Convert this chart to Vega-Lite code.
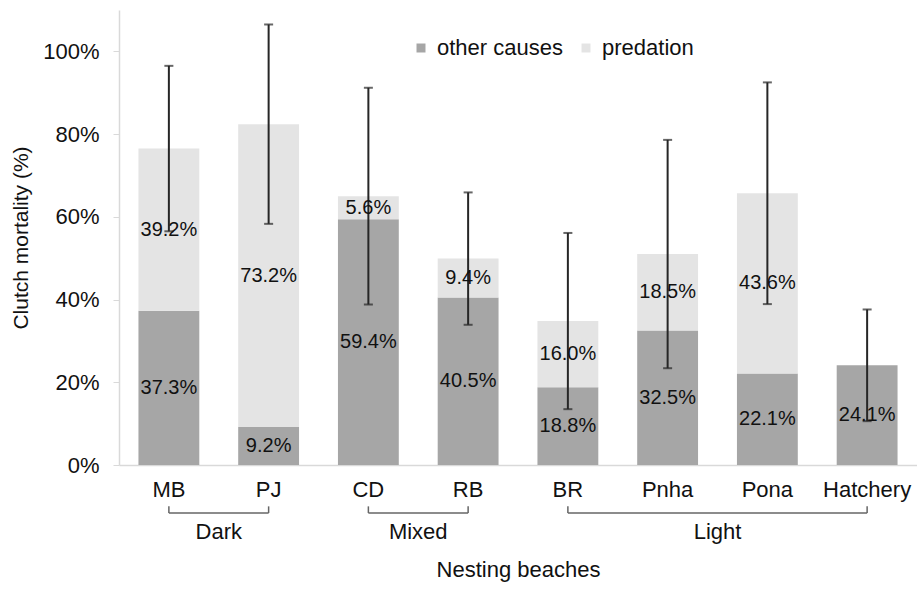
{
  "$schema": "https://vega.github.io/schema/vega-lite/v6.json",
  "width": 798,
  "height": 455,
  "autosize": {"type": "none"},
  "padding": {"left": 119, "top": 10, "right": 0, "bottom": 125},
  "background": "white",
  "config": {
    "font": "Liberation Sans",
    "view": {"stroke": null},
    "axis": {"labelColor": "#111111", "titleColor": "#111111", "titleFontWeight": "normal"}
  },
  "datasets": {
    "beaches": [
      {"beach": "MB", "group": "Dark", "other": 0.373, "predation": 0.392, "err": 0.200},
      {"beach": "PJ", "group": "Dark", "other": 0.092, "predation": 0.732, "err": 0.241},
      {"beach": "CD", "group": "Mixed", "other": 0.594, "predation": 0.056, "err": 0.262},
      {"beach": "RB", "group": "Mixed", "other": 0.405, "predation": 0.094, "err": 0.160},
      {"beach": "BR", "group": "Light", "other": 0.188, "predation": 0.160, "err": 0.213},
      {"beach": "Pnha", "group": "Light", "other": 0.325, "predation": 0.185, "err": 0.276},
      {"beach": "Pona", "group": "Light", "other": 0.221, "predation": 0.436, "err": 0.268},
      {"beach": "Hatchery", "group": "Light", "other": 0.241, "predation": 0.0, "err": 0.135}
    ],
    "groups": [
      {"group": "Dark", "first": "MB", "last": "PJ", "mid": "MB"},
      {"group": "Mixed", "first": "CD", "last": "RB", "mid": "CD"},
      {"group": "Light", "first": "BR", "last": "Hatchery", "mid": "Pnha"}
    ]
  },
  "layer": [
    {
      "data": {"name": "beaches"},
      "transform": [
        {"fold": ["other", "predation"], "as": ["key", "value"]},
        {"calculate": "datum.key === 'other' ? 'other causes' : 'predation'", "as": "cause"},
        {"calculate": "datum.key === 'other' ? 0 : 1", "as": "ord"}
      ],
      "mark": {"type": "bar", "width": {"band": 0.61}},
      "encoding": {
        "x": {
          "field": "beach", "type": "nominal", "sort": null,
          "scale": {"domain": ["MB", "PJ", "CD", "RB", "BR", "Pnha", "Pona", "Hatchery"], "paddingInner": 0, "paddingOuter": 0},
          "axis": {
            "title": "Nesting beaches", "titleFontSize": 22, "titlePadding": 59,
            "labelAngle": 0, "labelFontSize": 22, "labelPadding": 14,
            "ticks": false, "tickSize": 0, "domainColor": "#d9d9d9", "domainWidth": 1.5
          }
        },
        "y": {
          "field": "value", "type": "quantitative", "stack": "zero",
          "scale": {"domain": [0, 1.1], "nice": false},
          "axis": {
            "title": "Clutch mortality (%)", "titleFontSize": 21, "titlePadding": 11,
            "values": [0, 0.2, 0.4, 0.6, 0.8, 1.0], "format": ".0%",
            "labelFontSize": 22, "labelPadding": 14, "tickSize": 6,
            "tickColor": "#d9d9d9", "domainColor": "#d9d9d9", "domainWidth": 1.5, "grid": false
          }
        },
        "color": {
          "field": "cause", "type": "nominal",
          "scale": {"domain": ["other causes", "predation"], "range": ["#a6a6a6", "#e4e4e4"]},
          "legend": {
            "title": null, "orient": "none", "legendX": 291, "legendY": 27,
            "direction": "horizontal", "symbolType": "square", "symbolSize": 81,
            "symbolStrokeWidth": 0, "labelFontSize": 22, "labelOffset": 5,
            "columnPadding": 12, "labelColor": "#111111"
          }
        },
        "order": {"field": "ord", "type": "quantitative"}
      }
    },
    {
      "data": {"name": "beaches"},
      "transform": [
        {"calculate": "datum.other + datum.predation - datum.err", "as": "lo"},
        {"calculate": "datum.other + datum.predation + datum.err", "as": "hi"}
      ],
      "mark": {"type": "rule", "color": "#262626", "strokeWidth": 2},
      "encoding": {
        "x": {"field": "beach", "type": "nominal", "sort": null},
        "y": {"field": "lo", "type": "quantitative"},
        "y2": {"field": "hi"}
      }
    },
    {
      "data": {"name": "beaches"},
      "transform": [
        {"calculate": "datum.other + datum.predation - datum.err", "as": "lo"},
        {"calculate": "datum.other + datum.predation + datum.err", "as": "hi"},
        {"fold": ["lo", "hi"], "as": ["end", "pos"]}
      ],
      "mark": {"type": "tick", "color": "#262626", "size": 9, "thickness": 2},
      "encoding": {
        "x": {"field": "beach", "type": "nominal", "sort": null},
        "y": {"field": "pos", "type": "quantitative"}
      }
    },
    {
      "data": {"name": "beaches"},
      "transform": [
        {"calculate": "datum.other / 2", "as": "mid_other"}
      ],
      "mark": {"type": "text", "fontSize": 20, "color": "#111111", "baseline": "middle", "align": "center"},
      "encoding": {
        "x": {"field": "beach", "type": "nominal", "sort": null},
        "y": {"field": "mid_other", "type": "quantitative"},
        "text": {"field": "other", "type": "quantitative", "format": ".1%"}
      }
    },
    {
      "data": {"name": "beaches"},
      "transform": [
        {"filter": "datum.predation > 0"},
        {"calculate": "datum.other + datum.predation / 2", "as": "mid_pred"}
      ],
      "mark": {"type": "text", "fontSize": 20, "color": "#111111", "baseline": "middle", "align": "center"},
      "encoding": {
        "x": {"field": "beach", "type": "nominal", "sort": null},
        "y": {"field": "mid_pred", "type": "quantitative"},
        "text": {"field": "predation", "type": "quantitative", "format": ".1%"}
      }
    },
    {
      "data": {"name": "groups"},
      "mark": {"type": "rule", "color": "#666666", "strokeWidth": 1.5, "clip": false},
      "encoding": {
        "x": {"field": "first", "type": "nominal"},
        "x2": {"field": "last"},
        "y": {"datum": -0.116, "type": "quantitative"}
      }
    },
    {
      "data": {"name": "groups"},
      "transform": [{"fold": ["first", "last"], "as": ["side", "b"]}],
      "mark": {"type": "rule", "color": "#666666", "strokeWidth": 1.5, "clip": false},
      "encoding": {
        "x": {"field": "b", "type": "nominal"},
        "y": {"datum": -0.100, "type": "quantitative"},
        "y2": {"datum": -0.116}
      }
    },
    {
      "data": {"name": "groups"},
      "mark": {"type": "text", "fontSize": 22, "color": "#111111", "baseline": "middle", "align": "center"},
      "encoding": {
        "x": {"field": "mid", "type": "nominal", "bandPosition": 1},
        "y": {"datum": -0.162, "type": "quantitative"},
        "text": {"field": "group", "type": "nominal"}
      }
    }
  ]
}
